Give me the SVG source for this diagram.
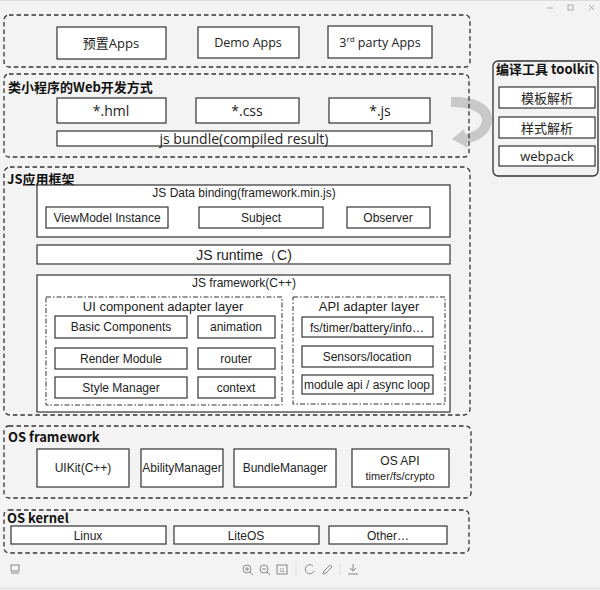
<svg xmlns="http://www.w3.org/2000/svg" width="600" height="590" viewBox="0 0 600 590">
<style>
.region{fill:none;stroke:#333;stroke-width:1.3;stroke-dasharray:4.5,3}
.dd{fill:none;stroke:#333;stroke-width:1;stroke-dasharray:5,2,1.5,2}
.box{fill:#fff;stroke:#333;stroke-width:1.2}
.t{font-family:"Open Sans","Noto Sans CJK SC",sans-serif;fill:#222;text-anchor:middle}
.a{font-family:"Liberation Sans",Arial,sans-serif;fill:#222;text-anchor:middle}
.h{font-family:"Noto Sans CJK SC","Noto Sans",sans-serif;font-weight:bold;fill:#111;font-size:13px}
.icon{fill:none;stroke:#888;stroke-width:1}
</style>
<rect x="0" y="0" width="600" height="590" fill="#f3f3f3"/>
<line x1="0" y1="0.5" x2="600" y2="0.5" stroke="#ddd"/>
<g id="window-controls" stroke="#999" stroke-width="0.8" fill="none">
<line x1="547" y1="8" x2="553" y2="8"/>
<rect x="568" y="5" width="5" height="5"/>
<path d="M589 5 L594 10 M594 5 L589 10"/>
</g>

<g id="connectors">
<path d="M451 97 C478 96 492 106 492 119 C492 132 481 141 467 143 L468 148 L452 139 L464 129 L465 134 C475 132 482 127 482 120 C482 112 470 107 451 107 Z" fill="#c8c8c8"/>
</g>

<g id="apps">
<rect class="region" x="4" y="15" width="466" height="52" rx="5"/>
<g id="preset-apps"><rect class="box" x="57" y="27" width="109" height="32"/><text class="t" x="111" y="48" font-size="13">预置Apps</text></g>
<g id="demo-apps"><rect class="box" x="198" y="27" width="101" height="31"/><text class="t" x="248" y="47" font-size="12.5">Demo Apps</text></g>
<g id="third-apps"><rect class="box" x="328" y="26" width="104" height="32"/><text class="t" x="380" y="47" font-size="12.5">3<tspan font-size="8" dy="-5">rd</tspan><tspan dy="5"> party Apps</tspan></text></g>
</g>

<g id="web-dev">
<rect class="region" x="4" y="74" width="465" height="83" rx="5"/>
<text class="h" x="8" y="92">类小程序的Web开发方式</text>
<g id="hml"><rect class="box" x="57" y="98" width="109" height="25"/><text class="t" x="111" y="116" font-size="14">*.hml</text></g>
<g id="css"><rect class="box" x="196" y="98" width="103" height="25"/><text class="t" x="247" y="116" font-size="14">*.css</text></g>
<g id="js"><rect class="box" x="329" y="98" width="101" height="25"/><text class="t" x="380" y="116" font-size="14">*.js</text></g>
<g id="js-bundle"><rect class="box" x="57" y="131" width="375" height="15"/><text class="t" x="244" y="144" font-size="14">js bundle(compiled result)</text></g>
</g>

<g id="toolkit">
<rect x="493" y="61" width="105" height="115" rx="5" fill="none" stroke="#333" stroke-width="1.3"/>
<text class="h" x="545" y="74" text-anchor="middle" font-size="12.5">编译工具 toolkit</text>
<g id="template-parse"><rect class="box" x="499" y="87" width="96" height="21"/><text class="t" x="547" y="103" font-size="13">模板解析</text></g>
<g id="style-parse"><rect class="box" x="499" y="117" width="96" height="21"/><text class="t" x="547" y="133" font-size="13">样式解析</text></g>
<g id="webpack"><rect class="box" x="499" y="146" width="96" height="20"/><text class="t" x="547" y="161" font-size="13">webpack</text></g>
</g>

<g id="js-framework-region">
<rect class="region" x="4" y="167" width="466" height="248" rx="6"/>
<text class="h" x="7" y="184">JS应用框架</text>
<g id="data-binding"><rect class="box" x="37" y="185" width="413" height="52"/><text class="a" x="244" y="197" font-size="12">JS Data binding(framework.min.js)</text></g>
<g id="viewmodel"><rect class="box" x="46" y="207" width="122" height="21"/><text class="a" x="107" y="222" font-size="12">ViewModel Instance</text></g>
<g id="subject"><rect class="box" x="199" y="207" width="124" height="21"/><text class="a" x="261" y="222" font-size="12">Subject</text></g>
<g id="observer"><rect class="box" x="347" y="207" width="83" height="21"/><text class="a" x="388" y="222" font-size="12">Observer</text></g>
<g id="js-runtime"><rect class="box" x="37" y="245" width="413" height="19"/><text class="a" x="244" y="260" font-size="14">JS runtime（C)</text></g>
<g id="js-framework"><rect class="box" x="37" y="275" width="413" height="137"/><text class="a" x="244" y="287" font-size="12">JS framework(C++)</text></g>
<g id="ui-adapter">
<rect class="dd" x="46" y="297" width="236" height="108"/>
<text class="a" x="163" y="311" font-size="13">UI component adapter layer</text>
</g>
<g id="basic-components"><rect class="box" x="55" y="316" width="132" height="22"/><text class="a" x="121" y="331" font-size="12">Basic Components</text></g>
<g id="animation"><rect class="box" x="198" y="316" width="77" height="22"/><text class="a" x="236" y="331" font-size="12">animation</text></g>
<g id="render-module"><rect class="box" x="55" y="348" width="132" height="21"/><text class="a" x="121" y="363" font-size="12">Render Module</text></g>
<g id="router"><rect class="box" x="198" y="348" width="77" height="21"/><text class="a" x="236" y="363" font-size="12">router</text></g>
<g id="style-manager"><rect class="box" x="55" y="377" width="132" height="21"/><text class="a" x="121" y="392" font-size="12">Style Manager</text></g>
<g id="context"><rect class="box" x="198" y="377" width="77" height="21"/><text class="a" x="236" y="392" font-size="12">context</text></g>
<g id="api-adapter">
<rect class="dd" x="293" y="297" width="152" height="107"/>
<text class="a" x="369" y="311" font-size="13">API adapter layer</text>
</g>
<g id="fs-timer"><rect class="box" x="302" y="317" width="131" height="20"/><text class="a" x="367" y="332" font-size="12">fs/timer/battery/info…</text></g>
<g id="sensors"><rect class="box" x="302" y="346" width="131" height="21"/><text class="a" x="367" y="361" font-size="12">Sensors/location</text></g>
<g id="module-api"><rect class="box" x="302" y="375" width="131" height="19"/><text class="a" x="367" y="389" font-size="12">module api / async loop</text></g>
</g>

<g id="os-framework">
<rect class="region" x="4" y="426" width="467" height="72" rx="5"/>
<text class="h" x="8" y="442">OS framework</text>
<g id="uikit"><rect class="box" x="37" y="449" width="92" height="38"/><text class="a" x="83" y="472" font-size="12">UIKit(C++)</text></g>
<g id="ability-manager"><rect class="box" x="141" y="449" width="82" height="38"/><text class="a" x="182" y="472" font-size="12">AbilityManager</text></g>
<g id="bundle-manager"><rect class="box" x="234" y="449" width="102" height="38"/><text class="a" x="285" y="472" font-size="12">BundleManager</text></g>
<g id="os-api"><rect class="box" x="352" y="449" width="97" height="38"/><text class="a" x="400" y="465" font-size="12">OS API</text><text class="a" x="400" y="480" font-size="11">timer/fs/crypto</text></g>
</g>

<g id="os-kernel">
<rect class="region" x="4" y="510" width="465" height="43" rx="5"/>
<text class="h" x="7" y="523">OS kernel</text>
<g id="linux"><rect class="box" x="11" y="526" width="155" height="18"/><text class="a" x="88" y="540" font-size="12">Linux</text></g>
<g id="liteos"><rect class="box" x="174" y="526" width="145" height="18"/><text class="a" x="246" y="540" font-size="12">LiteOS</text></g>
<g id="other"><rect class="box" x="329" y="526" width="118" height="18"/><text class="a" x="388" y="540" font-size="12">Other…</text></g>
</g>

<g id="toolbar">
<rect class="icon" x="11" y="565" width="8" height="6"/><line class="icon" x1="11" y1="573" x2="19" y2="573"/>
<circle class="icon" cx="247" cy="569" r="4"/><line class="icon" x1="250" y1="572" x2="253" y2="575"/><path class="icon" d="M245 569 H249 M247 567 V571"/>
<circle class="icon" cx="264" cy="569" r="4"/><line class="icon" x1="267" y1="572" x2="270" y2="575"/><path class="icon" d="M262 569 H266"/>
<rect class="icon" x="277" y="565" width="10" height="9"/><text x="282" y="572" font-family="Liberation Sans,sans-serif" font-size="5" fill="#888" text-anchor="middle">11</text>
<line x1="296" y1="564" x2="296" y2="575" stroke="#ddd"/>
<path class="icon" d="M313 566 A4.5 4.5 0 1 0 314 571"/>
<path class="icon" d="M323 574 L324 571 L330 565 L332 567 L326 573 Z"/>
<line x1="340" y1="564" x2="340" y2="575" stroke="#ddd"/>
<path class="icon" d="M353 564 V571 M350 568 L353 571 L356 568 M348 574 H358"/>
</g>
<line x1="0" y1="588.5" x2="600" y2="588.5" stroke="#ddd"/>
</svg>
